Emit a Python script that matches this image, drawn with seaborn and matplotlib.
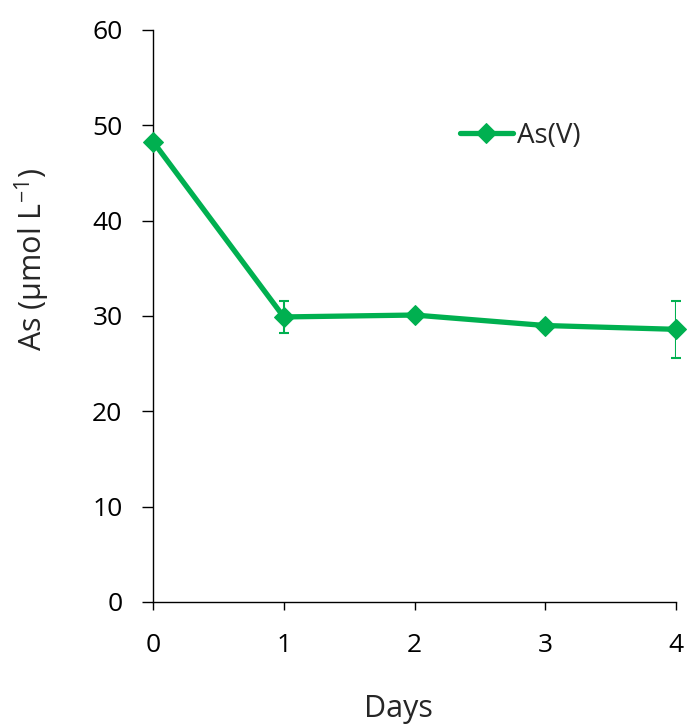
import matplotlib
matplotlib.use("Agg")
import matplotlib.pyplot as plt
import seaborn as sns
import pandas as pd
import numpy as np

days = [0, 1, 2, 3, 4]
as_v = [48.3, 29.9, 30.1, 29.0, 28.6]
as_err = [0.0, 1.65, 0.3, 0.3, 3.0]

sns.set_style("white")
plt.rcParams['font.family'] = ['Open Sans', 'DejaVu Sans']
plt.rcParams['mathtext.default'] = 'regular'

df = pd.DataFrame({"Days": days, "As": as_v, "err": as_err})
green = "#00B050"

fig = plt.figure(figsize=(6.88, 7.26), dpi=100)
ax = fig.add_axes([0.2224, 0.1708, 0.7602, 0.7879])

ax.errorbar(df["Days"], df["As"], yerr=df["err"], fmt="none", ecolor=green,
            elinewidth=1.5, capsize=3.6, capthick=1.5, zorder=2)
sns.lineplot(data=df, x="Days", y="As", ax=ax, color=green, linewidth=3.8,
             marker="D", markersize=10, markeredgecolor=green, label="As(V)", zorder=3)

ax.set_xlim(0, 4)
ax.set_ylim(0, 60)
ax.set_xticks(days)
ax.set_yticks(range(0, 61, 10))
for s in ["top", "right"]:
    ax.spines[s].set_visible(False)
for s in ["left", "bottom"]:
    ax.spines[s].set_color("black")
    ax.spines[s].set_linewidth(1.0)
ax.tick_params(axis="both", direction="out", width=1, colors="black",
               labelsize=19, left=True, bottom=True)
ax.tick_params(axis="x", length=6, pad=16)
ax.tick_params(axis="y", length=8, pad=14)
ax.set_xlabel("Days", fontsize=22)
ax.set_ylabel("As (µmol L$^{-1}$)", fontsize=22)
ax.xaxis.set_label_coords(0.47, -0.16)
ax.yaxis.set_label_coords(-0.193, 0.598)
for l in ax.get_lines():
    l.set_clip_on(False)

leg = ax.legend(loc="center left", bbox_to_anchor=(0.587, 0.815), frameon=False,
                fontsize=20, handlelength=1.9, handletextpad=0.15,
                borderpad=0, borderaxespad=0)

fig.savefig("out.png", dpi=100)
